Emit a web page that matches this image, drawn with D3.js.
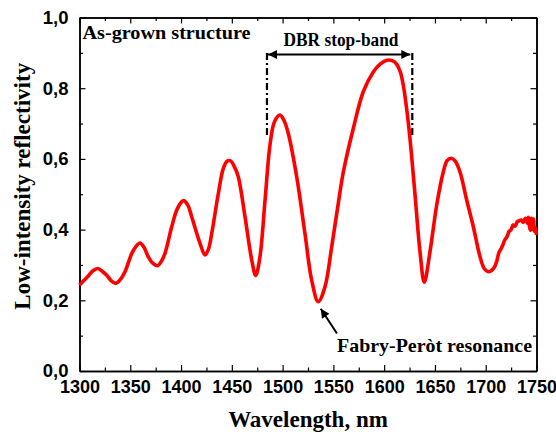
<!DOCTYPE html>
<html>
<head>
<meta charset="utf-8">
<script src="https://cdn.jsdelivr.net/npm/d3@7"></script>
<style>
  body { margin: 0; background: #fff; }
  svg { display: block; font-family: "Liberation Serif", "Times New Roman", serif; }
  .axis text { font-size: 18px; font-weight: bold; fill: #000; }
  .axis path, .axis line { stroke: #000; }
</style>
</head>
<body>
<svg id="chart" width="556" height="435"></svg>
<script>
// wavelength (nm) and low-intensity reflectivity
let wavelength = [
  1300, 1304, 1308.7, 1313, 1317.9, 1322, 1326.8, 1331, 1335.6, 1340,
  1344.8, 1351.4, 1355.5, 1359.6, 1363.5, 1367.7, 1372, 1377, 1380.5, 1384.2,
  1390.8, 1396.5, 1402.2, 1406.5, 1410.5, 1418.7, 1423.6, 1427, 1430.2, 1436.7,
  1441.6, 1445.5, 1448.9, 1452.5, 1456.4, 1463, 1469.6, 1473.5, 1477.7, 1482.7,
  1487.6, 1492, 1497.4, 1501.5, 1505.6, 1513.9, 1522, 1528.6, 1535.1, 1541.7,
  1548.3, 1555.8, 1559.8, 1569.6, 1579.4, 1589.3, 1596, 1602.5, 1608, 1612.3,
  1616, 1618.8, 1622, 1625.4, 1630.4, 1635.3, 1639.5, 1645.1, 1651.7, 1658.2,
  1662, 1666, 1670, 1674.7, 1681.3, 1687.8, 1694.4, 1698.5, 1702.5, 1705,
  1707, 1709, 1711, 1713, 1715, 1717, 1719, 1721, 1723, 1725,
  1727, 1729, 1731, 1733, 1735, 1737, 1739, 1741, 1742, 1743,
  1744, 1745, 1746, 1747, 1748, 1749, 1750
];
let reflectivity = [
  0.243, 0.255, 0.269, 0.283, 0.290, 0.283, 0.271, 0.256, 0.248, 0.258,
  0.281, 0.332, 0.352, 0.362, 0.350, 0.323, 0.305, 0.298, 0.310, 0.333,
  0.408, 0.460, 0.482, 0.470, 0.436, 0.361, 0.328, 0.345, 0.389, 0.502,
  0.573, 0.594, 0.594, 0.578, 0.549, 0.436, 0.314, 0.270, 0.323, 0.483,
  0.640, 0.705, 0.724, 0.708, 0.672, 0.549, 0.389, 0.257, 0.196, 0.238,
  0.351, 0.493, 0.563, 0.686, 0.790, 0.846, 0.868, 0.879, 0.878, 0.868,
  0.845, 0.809, 0.745, 0.658, 0.498, 0.337, 0.251, 0.337, 0.469, 0.563,
  0.595, 0.602, 0.594, 0.563, 0.483, 0.408, 0.323, 0.290, 0.281, 0.283,
  0.288, 0.296, 0.312, 0.335, 0.345, 0.358, 0.372, 0.380, 0.395, 0.400,
  0.413, 0.410, 0.422, 0.425, 0.427, 0.420, 0.432, 0.418, 0.435, 0.410,
  0.398, 0.432, 0.410, 0.430, 0.395, 0.405, 0.385
];

let xTicks = [1300, 1350, 1400, 1450, 1500, 1550, 1600, 1650, 1700, 1750];
let xMinorTicks = [1325, 1375, 1425, 1475, 1525, 1575, 1625, 1675, 1725];
let yTicks = [0, 0.2, 0.4, 0.6, 0.8, 1.0];
let yMinorTicks = [0.1, 0.3, 0.5, 0.7, 0.9];

// stop-band edges (nm) and the annotated resonance dip
let stopBand = [1484.6, 1627.7];
let resonance = [1535.1, 0.196];

let svg = d3.select("#chart");
let plotL = 79.5, plotR = 536.5, plotT = 17.5, plotB = 371;

let x = d3.scaleLinear().domain([1300, 1750]).range([plotL, plotR]);
let y = d3.scaleLinear().domain([0, 1]).range([plotB, plotT]);

let fmt = d => d3.format(".1f")(d).replace(".", ",");

// major and minor ticks on all four sides, pointing inwards
svg.append("g").attr("class", "axis").attr("transform", `translate(0,${plotB})`)
  .call(d3.axisBottom(x).tickValues(xTicks).tickSize(-6).tickSizeOuter(0).tickPadding(9).tickFormat(d3.format("d")));
svg.append("g").attr("class", "axis").attr("transform", `translate(0,${plotB})`)
  .call(d3.axisBottom(x).tickValues(xMinorTicks).tickSize(-3.5).tickSizeOuter(0).tickFormat(""));
svg.append("g").attr("class", "axis").attr("transform", `translate(0,${plotT})`)
  .call(d3.axisTop(x).tickValues(xTicks).tickSize(-6).tickSizeOuter(0).tickFormat(""));
svg.append("g").attr("class", "axis").attr("transform", `translate(0,${plotT})`)
  .call(d3.axisTop(x).tickValues(xMinorTicks).tickSize(-3.5).tickSizeOuter(0).tickFormat(""));

svg.append("g").attr("class", "axis").attr("transform", `translate(${plotL},0)`)
  .call(d3.axisLeft(y).tickValues(yTicks).tickSize(-6).tickSizeOuter(0).tickPadding(11).tickFormat(fmt))
  .selectAll("text").style("font-size", "18.5px");
svg.append("g").attr("class", "axis").attr("transform", `translate(${plotL},0)`)
  .call(d3.axisLeft(y).tickValues(yMinorTicks).tickSize(-3.5).tickSizeOuter(0).tickFormat(""));
svg.append("g").attr("class", "axis").attr("transform", `translate(${plotR},0)`)
  .call(d3.axisRight(y).tickValues(yTicks).tickSize(-6).tickSizeOuter(0).tickFormat(""));
svg.append("g").attr("class", "axis").attr("transform", `translate(${plotR},0)`)
  .call(d3.axisRight(y).tickValues(yMinorTicks).tickSize(-3.5).tickSizeOuter(0).tickFormat(""));

svg.selectAll(".axis path.domain").attr("stroke-width", 1.5);
svg.selectAll(".axis .tick line").attr("stroke-width", 1.2);

// spectrum
let pts = wavelength.map((w, i) => [w, reflectivity[i]]);
let line = d3.line().x(d => x(d[0])).y(d => y(d[1])).curve(d3.curveCatmullRom.alpha(0.5));
svg.append("path")
  .datum(pts)
  .attr("d", line)
  .attr("fill", "none")
  .attr("stroke", "#ff0000")
  .attr("stroke-width", 3.6)
  .attr("stroke-linejoin", "round");

// arrow heads
let defs = svg.append("defs");
defs.append("marker").attr("id", "head")
  .attr("viewBox", "0 0 10 10").attr("refX", 10).attr("refY", 5)
  .attr("markerWidth", 7).attr("markerHeight", 4.5).attr("markerUnits", "strokeWidth")
  .attr("orient", "auto-start-reverse")
  .append("path").attr("d", "M0,0L10,5L0,10Z").attr("fill", "#000");

// DBR stop-band markers
stopBand.forEach(w => {
  svg.append("line")
    .attr("x1", x(w)).attr("x2", x(w))
    .attr("y1", 53).attr("y2", 138)
    .attr("stroke", "#000").attr("stroke-width", 2.2)
    .attr("stroke-dasharray", "7,3,2,3");
});
svg.append("line")
  .attr("x1", x(stopBand[0]) + 1).attr("x2", x(stopBand[1]) - 2)
  .attr("y1", 54.5).attr("y2", 54.5)
  .attr("stroke", "#000").attr("stroke-width", 2)
  .attr("marker-start", "url(#head)").attr("marker-end", "url(#head)");
svg.append("text")
  .attr("x", 341).attr("y", 45.5)
  .attr("text-anchor", "middle")
  .attr("textLength", 115).attr("lengthAdjust", "spacingAndGlyphs")
  .style("font-size", "18px").style("font-weight", "bold")
  .text("DBR stop-band");

// Fabry-Perot annotation
svg.append("line")
  .attr("x1", 337).attr("y1", 333.5)
  .attr("x2", x(resonance[0]) + 2.5).attr("y2", y(resonance[1]) + 7)
  .attr("stroke", "#000").attr("stroke-width", 2)
  .attr("marker-end", "url(#head)");
svg.append("text")
  .attr("x", 337).attr("y", 352)
  .attr("textLength", 195).attr("lengthAdjust", "spacingAndGlyphs")
  .style("font-size", "19px").style("font-weight", "bold")
  .text("Fabry-Peròt resonance");

svg.append("text")
  .attr("x", 82.5).attr("y", 38.5)
  .attr("textLength", 168).attr("lengthAdjust", "spacingAndGlyphs")
  .style("font-size", "19px").style("font-weight", "bold")
  .text("As-grown structure");

// axis titles
svg.append("text")
  .attr("x", (plotL + plotR) / 2).attr("y", 426.5)
  .attr("text-anchor", "middle")
  .style("font-size", "23px").style("font-weight", "bold")
  .text("Wavelength, nm");
svg.append("text")
  .attr("transform", `translate(30,${(plotT + plotB) / 2 - 8}) rotate(-90)`)
  .attr("text-anchor", "middle")
  .style("font-size", "23px").style("font-weight", "bold")
  .text("Low-intensity reflectivity");
</script>
</body>
</html>
